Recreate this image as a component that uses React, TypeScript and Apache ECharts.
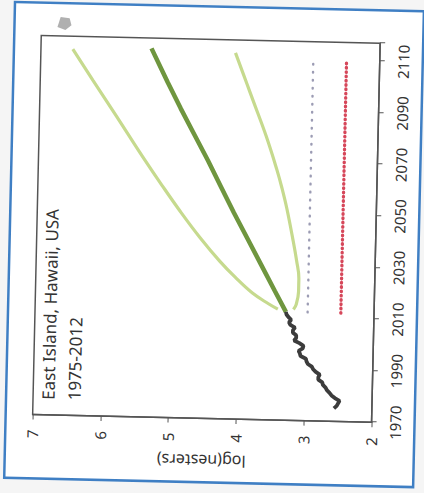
import React, { useEffect, useRef } from 'react';
import * as echarts from 'echarts';

// ---- data (years, log(nesters)) ----
const BASE_YEAR = 1970;
const observedYears = [1975, 1976, 1977, 1978, 1979, 1980, 1981, 1982, 1983, 1984, 1985, 1986, 1987, 1988, 1989, 1990, 1991, 1992, 1993, 1994, 1995, 1996, 1997, 1998, 1999, 2000, 2001, 2002, 2003, 2004, 2005, 2006, 2007, 2008, 2009, 2010, 2011, 2012];
const observedLog = [2.56, 2.52, 2.5, 2.48, 2.55, 2.6, 2.63, 2.67, 2.69, 2.73, 2.74, 2.8, 2.8, 2.78, 2.84, 2.88, 2.9, 2.96, 2.98, 2.99, 3.07, 3.08, 3.1, 3.04, 3.03, 3.09, 3.17, 3.14, 3.14, 3.19, 3.19, 3.16, 3.23, 3.25, 3.22, 3.26, 3.29, 3.3];

const meanYears = [2012, 2020, 2030, 2040, 2050, 2060, 2070, 2080, 2090, 2100, 2113];
const meanLog = [3.3, 3.47, 3.68, 3.89, 4.1, 4.3, 4.5, 4.71, 4.92, 5.12, 5.37];

const upperYears = [2013, 2015, 2019, 2025, 2031, 2040, 2050, 2060, 2070, 2080, 2092, 2100, 2112];
const upperLog = [3.42, 3.56, 3.8, 4.06, 4.29, 4.59, 4.89, 5.17, 5.44, 5.7, 6.01, 6.22, 6.53];

const lowerYears = [2013, 2015, 2020, 2025, 2032, 2040, 2052, 2060, 2067, 2080, 2094, 2100, 2112];
const lowerLog = [3.19, 3.15, 3.12, 3.12, 3.16, 3.22, 3.32, 3.4, 3.48, 3.65, 3.86, 3.95, 4.13];

const thresholdYears = [2012, 2110];
const grayLevel = [2.98, 2.98];
const redLevel = [2.49, 2.49];

const yearTickStep = 20;
const yearAxisSpan = 147; // 1970 .. 2117
const logMin = 2;
const logMax = 7;

const titleText = 'East Island, Hawaii, USA\n1975-2012';
const yAxisName = 'log(nesters)';

const pts = (years: number[], vals: number[]) => years.map((y, i) => [y - BASE_YEAR, vals[i]]);

const W = 493;
const H = 424;
const FONT = 'Noto Sans';

export default function App() {
  const ref = useRef<HTMLDivElement>(null);
  useEffect(() => {
    const chart = echarts.init(ref.current!, null, { renderer: 'svg', width: W, height: H });
    chart.setOption({
      animation: false,
      backgroundColor: '#f5f5f5',
      textStyle: { fontFamily: FONT },
      title: {
        text: titleText,
        left: 90,
        top: 38,
        padding: 0,
        textStyle: { fontFamily: FONT, fontSize: 17, fontWeight: 'normal', color: '#333333', lineHeight: 26 },
      },
      graphic: [
        {
          type: 'rect',
          z: -100,
          shape: { x: 11, y: 9, width: 476, height: 409 },
          style: { fill: '#ffffff', stroke: '#3f7fc4', lineWidth: 2.5 },
        },
        {
          type: 'polygon',
          z: -50,
          shape: { points: [[463, 52], [473, 55], [472, 64], [465, 66], [460, 60]] },
          style: { fill: '#b0b0b0' },
        },
      ],
      grid: {
        left: 75,
        right: 39,
        top: 36,
        bottom: 49,
        show: true,
        borderColor: '#555555',
        borderWidth: 1.5,
        backgroundColor: 'transparent',
      },
      xAxis: {
        type: 'value',
        min: 0,
        max: yearAxisSpan,
        interval: yearTickStep,
        axisLine: { show: true, lineStyle: { color: '#555555', width: 1.5 } },
        axisTick: { show: true, length: 5, lineStyle: { color: '#555555' } },
        axisLabel: {
          margin: 16,
          fontSize: 15,
          color: '#333333',
          fontFamily: FONT,
          formatter: (v: number) => (v % yearTickStep === 0 ? String(v + BASE_YEAR) : ''),
        },
        splitLine: { show: false },
      },
      yAxis: {
        type: 'value',
        min: logMin,
        max: logMax,
        interval: 1,
        name: yAxisName,
        nameLocation: 'middle',
        nameGap: 34,
        nameTextStyle: { fontSize: 16, color: '#333333', fontFamily: FONT },
        axisLine: { show: true, lineStyle: { color: '#555555', width: 1.5 } },
        axisTick: { show: true, length: 5, lineStyle: { color: '#555555' } },
        axisLabel: { margin: 15, fontSize: 15, color: '#333333', fontFamily: FONT },
        splitLine: { show: false },
      },
      series: [
        {
          type: 'line',
          data: pts(thresholdYears, grayLevel),
          showSymbol: false,
          lineStyle: { color: '#9c9cb4', width: 2.4, type: [0.6, 7.4], cap: 'round' },
        },
        {
          type: 'line',
          data: pts(thresholdYears, redLevel),
          showSymbol: false,
          lineStyle: { color: '#d6475a', width: 3.3, type: [0.6, 3.7], cap: 'round' },
        },
        {
          type: 'line',
          data: pts(upperYears, upperLog),
          showSymbol: false,
          smooth: 0.4,
          lineStyle: { color: '#c6da8e', width: 3.2 },
        },
        {
          type: 'line',
          data: pts(lowerYears, lowerLog),
          showSymbol: false,
          smooth: 0.4,
          lineStyle: { color: '#c6da8e', width: 3.2 },
        },
        {
          type: 'line',
          data: pts(meanYears, meanLog),
          showSymbol: false,
          lineStyle: { color: '#6f963f', width: 4.5 },
        },
        {
          type: 'line',
          data: pts(observedYears, observedLog),
          showSymbol: false,
          lineStyle: { color: '#3c3c3c', width: 3.8 },
        },
      ],
    });
    return () => chart.dispose();
  }, []);
  return (
    <div style={{ position: 'fixed', left: 0, top: 0, width: 424, height: 493, overflow: 'hidden', background: '#f5f5f5' }}>
      <div
        ref={ref}
        style={{
          position: 'absolute',
          width: W,
          height: H,
          left: (424 - W) / 2,
          top: (493 - H) / 2,
          transform: 'rotate(-88.7deg)',
          transformOrigin: 'center center',
        }}
      />
    </div>
  );
}
